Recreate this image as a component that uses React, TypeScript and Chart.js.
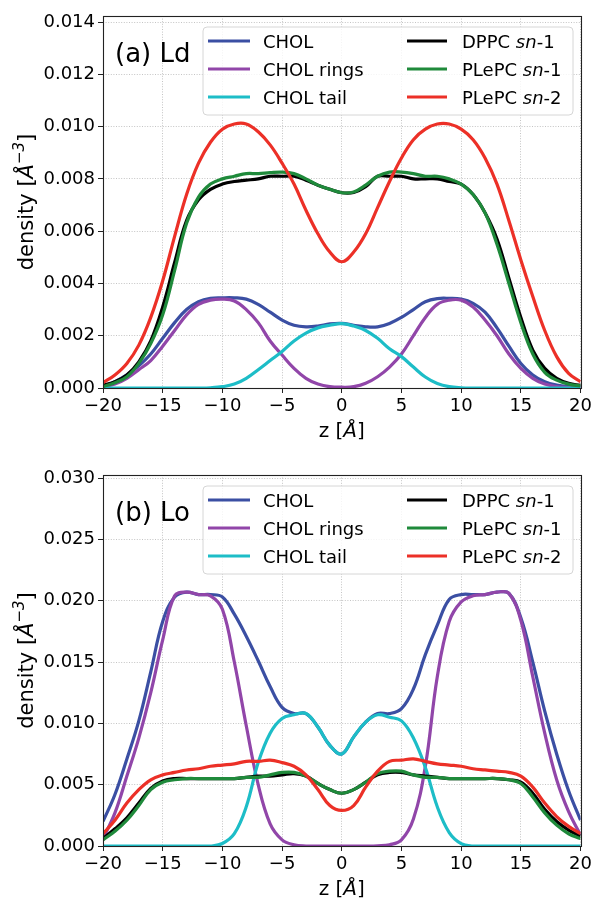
import React, { useEffect, useRef } from "react";
import { Chart, registerables } from "chart.js";

Chart.register(...registerables);

// ---------------- data ----------------
const Z = [-20, -19, -18, -17, -16, -15, -14, -13, -12, -11, -10, -9, -8, -7, -6, -5, -4, -3, -2, -1, 0,
  1, 2, 3, 4, 5, 6, 7, 8, 9, 10, 11, 12, 13, 14, 15, 16, 17, 18, 19, 20];

const X_TICKS = [-20, -15, -10, -5, 0, 5, 10, 15, 20];
const Y_TICKS_A = [0, 0.002, 0.004, 0.006, 0.008, 0.01, 0.012, 0.014];
const Y_TICKS_B = [0, 0.005, 0.01, 0.015, 0.02, 0.025, 0.03];
const Y_MAX_A = 0.01423;
const Y_MAX_B = 0.03025;

const LABELS = ["CHOL", "CHOL rings", "CHOL tail", "DPPC sn-1", "PLePC sn-1", "PLePC sn-2"];

// (a) Ld
const A_CHOL = [0.00005, 0.00024, 0.0005, 0.00085, 0.0013, 0.0019, 0.0025, 0.003, 0.0033, 0.00343, 0.00345,
  0.00345, 0.0034, 0.0032, 0.0029, 0.0026, 0.0024, 0.00234, 0.00237, 0.00245, 0.00247,
  0.0024, 0.00234, 0.00234, 0.00247, 0.0027, 0.003, 0.0033, 0.00342, 0.00343, 0.0034,
  0.00324, 0.0029, 0.0023, 0.0016, 0.00094, 0.0005, 0.00024, 0.00011, 0.00005, 0.00003];
const A_RINGS = [0.00003, 0.00015, 0.00037, 0.0007, 0.00105, 0.0016, 0.0022, 0.0028, 0.0032, 0.00336, 0.0034,
  0.00333, 0.003, 0.0025, 0.0018, 0.00126, 0.00075, 0.00037, 0.00015, 0.00005, 0.00003,
  0.00005, 0.00018, 0.00043, 0.0008, 0.0013, 0.002, 0.0027, 0.0032, 0.00336, 0.00336,
  0.0031, 0.0026, 0.002, 0.0013, 0.00075, 0.00037, 0.00015, 0.00005, 0.00002, 0.00001];
const A_TAIL = [0, 0, 0, 0, 0, 0, 0, 0, 0, 0.00001, 0.00005,
  0.00015, 0.00037, 0.0007, 0.00105, 0.0014, 0.0018, 0.0021, 0.0023, 0.0024, 0.00246,
  0.00237, 0.0022, 0.0019, 0.0015, 0.0012, 0.0008, 0.00042, 0.00017, 0.00005, 0.00001,
  0, 0, 0, 0, 0, 0, 0, 0, 0, 0];
const A_DPPC1 = [0.0001, 0.00024, 0.0005, 0.001, 0.0018, 0.0031, 0.0048, 0.0064, 0.0072, 0.0076, 0.0078,
  0.0079, 0.00795, 0.008, 0.0081, 0.0081, 0.0081, 0.00795, 0.00776, 0.0076, 0.00747,
  0.00748, 0.0077, 0.0081, 0.0081, 0.0081, 0.008, 0.008, 0.008, 0.0079, 0.0078,
  0.0074, 0.0067, 0.0057, 0.0042, 0.0027, 0.00145, 0.00075, 0.00037, 0.00018, 0.0001];
const A_PLEPC1 = [0.00005, 0.0002, 0.00043, 0.00094, 0.0017, 0.0028, 0.0045, 0.0063, 0.0073, 0.0078, 0.008,
  0.0081, 0.0082, 0.0082, 0.00824, 0.00826, 0.0082, 0.008, 0.00776, 0.0076, 0.00747,
  0.0075, 0.00776, 0.0081, 0.00826, 0.00826, 0.0082, 0.0081, 0.0081, 0.008, 0.0078,
  0.0074, 0.0067, 0.0055, 0.004, 0.0025, 0.0013, 0.0006, 0.0003, 0.00015, 0.00008];
const A_PLEPC2 = [0.0002, 0.0005, 0.00094, 0.00164, 0.0027, 0.0041, 0.0058, 0.0074, 0.0086, 0.0094, 0.0099,
  0.0101, 0.0101, 0.0098, 0.0093, 0.0086, 0.0078, 0.0068, 0.0059, 0.0052, 0.00483,
  0.0052, 0.0059, 0.0069, 0.0079, 0.0088, 0.0095, 0.0099, 0.0101, 0.0101, 0.0099,
  0.0095, 0.0088, 0.0078, 0.0064, 0.0049, 0.0035, 0.0022, 0.0012, 0.00056, 0.00024];

// (b) Lo
const B_CHOL = [0.002, 0.0042, 0.0071, 0.0102, 0.0142, 0.0183, 0.0203, 0.0207, 0.0205, 0.0205, 0.0203,
  0.0189, 0.0171, 0.0151, 0.013, 0.0113, 0.0108, 0.0108, 0.0097, 0.0082, 0.0075,
  0.0089, 0.0101, 0.0108, 0.0108, 0.0112, 0.0128, 0.0156, 0.018, 0.0201, 0.0205,
  0.0205, 0.0205, 0.0207, 0.0206, 0.0186, 0.015, 0.011, 0.0075, 0.0045, 0.0021];
const B_RINGS = [0.0006, 0.0027, 0.0057, 0.0088, 0.0125, 0.0168, 0.0204, 0.0207, 0.0205, 0.0204, 0.0193,
  0.015, 0.0098, 0.005, 0.0018, 0.0005, 0.0001, 0, 0, 0, 0,
  0, 0, 0.00002, 0.0001, 0.0005, 0.0022, 0.0065, 0.0138, 0.0183, 0.0199,
  0.0204, 0.0205, 0.0207, 0.0206, 0.0184, 0.0138, 0.0092, 0.0054, 0.0028, 0.0009];
const B_TAIL = [0, 0, 0, 0, 0, 0, 0, 0, 0, 0, 0.0002,
  0.001, 0.0032, 0.0068, 0.0092, 0.0104, 0.0107, 0.0108, 0.0097, 0.0082, 0.0075,
  0.0089, 0.0101, 0.0107, 0.0105, 0.0102, 0.0088, 0.0064, 0.0032, 0.0011, 0.0002,
  0, 0, 0, 0, 0, 0, 0, 0, 0, 0];
const B_DPPC1 = [0.0006, 0.0014, 0.0023, 0.0035, 0.0047, 0.0053, 0.0055, 0.0055, 0.0055, 0.0055, 0.0055,
  0.0055, 0.0056, 0.0057, 0.0057, 0.0058, 0.0059, 0.0057, 0.0051, 0.0046, 0.0043,
  0.0046, 0.0052, 0.0058, 0.006, 0.006, 0.0058, 0.0057, 0.0056, 0.0055, 0.0055,
  0.0055, 0.0055, 0.0055, 0.0054, 0.0052, 0.0043, 0.003, 0.002, 0.0013, 0.0008];
const B_PLEPC1 = [0.0005, 0.0012, 0.0021, 0.0033, 0.0046, 0.0052, 0.0054, 0.0055, 0.0055, 0.0055, 0.0055,
  0.0055, 0.0056, 0.0056, 0.0058, 0.006, 0.006, 0.0057, 0.0051, 0.0046, 0.0043,
  0.0046, 0.0052, 0.0059, 0.0061, 0.0061, 0.0058, 0.0056, 0.0056, 0.0055, 0.0055,
  0.0055, 0.0055, 0.0055, 0.0054, 0.0051, 0.004, 0.0027, 0.0017, 0.001, 0.0006];
const B_PLEPC2 = [0.001, 0.0021, 0.0035, 0.0046, 0.0054, 0.0058, 0.006, 0.0062, 0.0063, 0.0065, 0.0066,
  0.0067, 0.0069, 0.0069, 0.007, 0.0068, 0.0065, 0.0058, 0.0046, 0.0033, 0.0029,
  0.0033, 0.0048, 0.0061, 0.0069, 0.007, 0.0071, 0.0069, 0.0067, 0.0066, 0.0065,
  0.0063, 0.0062, 0.0061, 0.006, 0.0057, 0.0048, 0.0035, 0.0024, 0.0016, 0.001];

const COLORS = ["#3b4fa3", "#9146a9", "#1dbdc7", "#000000", "#1f8a3b", "#ec3027"];

// ---------------- helpers ----------------
const FONT = "'DejaVu Sans', 'Liberation Sans', sans-serif";

type Part = { t: string; i?: boolean; sup?: boolean };

function partFont(p: Part, size: number) {
  const s = p.sup ? Math.round(size * 0.7) : size;
  return `${p.i ? "italic " : ""}${s}px ${FONT}`;
}

function drawParts(ctx: CanvasRenderingContext2D, parts: Part[], x: number, y: number, size: number, align: "left" | "center") {
  let total = 0;
  for (const p of parts) {
    ctx.font = partFont(p, size);
    total += ctx.measureText(p.t).width;
  }
  let cx = align === "center" ? x - total / 2 : x;
  ctx.textAlign = "left";
  ctx.textBaseline = "alphabetic";
  for (const p of parts) {
    ctx.font = partFont(p, size);
    ctx.fillText(p.t, cx, p.sup ? y - size * 0.42 : y);
    cx += ctx.measureText(p.t).width;
  }
}

function legendParts(label: string): Part[] {
  const m = label.match(/^(.*)sn(-\d)$/);
  if (m) return [{ t: m[1] }, { t: "sn", i: true }, { t: m[2] }];
  return [{ t: label }];
}

const fmtX = (v: number) => (v < 0 ? "\u2212" + Math.abs(v) : String(v));

function makePlugin(panel: string) {
  return {
    id: "decor",
    afterDraw(chart: any) {
      const ctx: CanvasRenderingContext2D = chart.ctx;
      const a = chart.chartArea;
      ctx.save();
      // frame
      ctx.strokeStyle = "#222";
      ctx.lineWidth = 1.1;
      ctx.strokeRect(Math.round(a.left) + 0.5, Math.round(a.top) + 0.5, Math.round(a.right - a.left), Math.round(a.bottom - a.top));
      // panel label
      ctx.fillStyle = "#000";
      drawParts(ctx, [{ t: panel }], a.left + 12, a.top + 46, 26, "left");
      // legend box
      const bx = a.left + 100, by = a.top + 11, bw = 370, bh = 88, r = 4;
      ctx.beginPath();
      ctx.moveTo(bx + r, by);
      ctx.arcTo(bx + bw, by, bx + bw, by + bh, r);
      ctx.arcTo(bx + bw, by + bh, bx, by + bh, r);
      ctx.arcTo(bx, by + bh, bx, by, r);
      ctx.arcTo(bx, by, bx + bw, by, r);
      ctx.closePath();
      ctx.fillStyle = "rgba(255,255,255,0.82)";
      ctx.fill();
      ctx.strokeStyle = "#d6d6d6";
      ctx.lineWidth = 1;
      ctx.stroke();
      const cols = [
        { lx0: a.left + 105, lx1: a.left + 147, tx: a.left + 160 },
        { lx0: a.left + 304, lx1: a.left + 344, tx: a.left + 359 },
      ];
      LABELS.forEach((lab, i) => {
        const c = cols[Math.floor(i / 3)];
        const ry = a.top + 25 + (i % 3) * 28;
        ctx.strokeStyle = COLORS[i];
        ctx.lineWidth = 3;
        ctx.beginPath();
        ctx.moveTo(c.lx0, ry);
        ctx.lineTo(c.lx1, ry);
        ctx.stroke();
        ctx.fillStyle = "#000";
        drawParts(ctx, legendParts(lab), c.tx, ry + 6.5, 18, "left");
      });
      // x label
      drawParts(ctx, [{ t: "z [" }, { t: "\u00C5", i: true }, { t: "]" }], (a.left + a.right) / 2, a.bottom + 49, 20, "center");
      // y label
      ctx.save();
      ctx.translate(33, (a.top + a.bottom) / 2);
      ctx.rotate(-Math.PI / 2);
      drawParts(ctx, [{ t: "density [" }, { t: "\u00C5", i: true }, { t: "\u22123", sup: true, i: true }, { t: "]" }], 0, 0, 21, "center");
      ctx.restore();
      ctx.restore();
    },
  };
}

function makeConfig(series: number[][], yTicks: number[], yMax: number, panel: string, padTop: number, xHeight: number): any {
  const gridCommon = {
    color: "#c4c4c4",
    lineWidth: 1,
    tickColor: "#222",
    tickLength: 5,
    tickWidth: 1,
    tickBorderDash: [],
  };
  return {
    type: "line",
    data: {
      datasets: series.map((vals, i) => ({
        label: LABELS[i],
        data: Z.map((z, k) => ({ x: z, y: vals[k] })),
        borderColor: COLORS[i],
        backgroundColor: COLORS[i],
        borderWidth: 3.2,
        pointRadius: 0,
        fill: false,
        tension: 0.4,
        clip: 0,
        order: 10 - i,
      })),
    },
    options: {
      animation: false,
      responsive: false,
      events: [],
      layout: { padding: { top: padTop, right: 13, left: 0, bottom: 0 } },
      plugins: { legend: { display: false }, tooltip: { enabled: false }, title: { display: false } },
      scales: {
        x: {
          type: "linear",
          min: -20,
          max: 20,
          afterBuildTicks: (s: any) => {
            s.ticks = X_TICKS.map((v) => ({ value: v }));
          },
          afterFit: (s: any) => {
            s.height = xHeight;
          },
          ticks: {
            callback: (v: number) => fmtX(v),
            font: { family: FONT, size: 18 },
            color: "#000",
            padding: 3,
            maxRotation: 0,
            autoSkip: false,
          },
          grid: gridCommon,
          border: { display: false, dash: [1, 1.6] },
        },
        y: {
          type: "linear",
          min: 0,
          max: yMax,
          afterBuildTicks: (s: any) => {
            s.ticks = yTicks.map((v) => ({ value: v }));
          },
          afterFit: (s: any) => {
            s.width = 103;
          },
          ticks: {
            callback: (v: number) => v.toFixed(3),
            font: { family: FONT, size: 18 },
            color: "#000",
            padding: 3,
            autoSkip: false,
          },
          grid: gridCommon,
          border: { display: false, dash: [1, 1.6] },
        },
      },
    },
    plugins: [makePlugin(panel)],
  };
}

function Panel(props: { series: number[][]; yTicks: number[]; yMax: number; panel: string; top: number; height: number; padTop: number; xHeight: number }) {
  const ref = useRef<HTMLCanvasElement | null>(null);
  useEffect(() => {
    if (!ref.current) return;
    const chart = new Chart(ref.current, makeConfig(props.series, props.yTicks, props.yMax, props.panel, props.padTop, props.xHeight));
    return () => chart.destroy();
  }, []);
  return (
    <canvas
      ref={ref}
      width={595}
      height={props.height}
      style={{ position: "absolute", left: 0, top: props.top, width: 595, height: props.height }}
    />
  );
}

export default function App() {
  return (
    <div style={{ position: "absolute", left: 0, top: 0, width: 595, height: 899, background: "#fff" }}>
      <Panel
        series={[A_CHOL, A_RINGS, A_TAIL, A_DPPC1, A_PLEPC1, A_PLEPC2]}
        yTicks={Y_TICKS_A}
        yMax={Y_MAX_A}
        panel="(a) Ld"
        top={0}
        height={449}
        padTop={16}
        xHeight={61}
      />
      <Panel
        series={[B_CHOL, B_RINGS, B_TAIL, B_DPPC1, B_PLEPC1, B_PLEPC2]}
        yTicks={Y_TICKS_B}
        yMax={Y_MAX_B}
        panel="(b) Lo"
        top={449}
        height={450}
        padTop={26}
        xHeight={53}
      />
    </div>
  );
}
